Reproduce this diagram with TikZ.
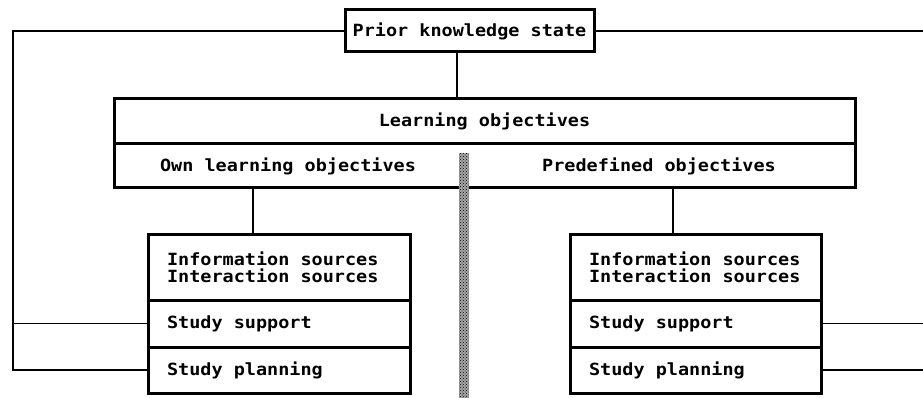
\documentclass[tikz,border=0pt]{standalone}
\usepackage{fontspec}
\newfontfamily\diagfont[FakeStretch=1.1]{DejaVu Sans Mono}
\usetikzlibrary{positioning,patterns}

\tikzset{
  part/.style={draw, line width=3pt, inner sep=0pt, outer sep=0pt, font=\diagfont\bfseries\fontsize{16.8}{17}\selectfont},
  headpart/.style={part, minimum width=#1, align=center},
  srcpart/.style={part, minimum width=#1, text width=#1-38pt, inner xsep=19pt, align=flush left, anchor=north west},
  link/.style={line width=1.8pt},
  label/.style={inner sep=0pt, font=\diagfont\bfseries\fontsize{16.8}{17}\selectfont}
}

\begin{document}
\begin{tikzpicture}[x=1pt,y=-1pt]
  \useasboundingbox (0,0) rectangle (923,398);

  % top
  \node[headpart=249pt, minimum height=42pt] (prior) at (469.5,31) {Prior knowledge state};

  % objectives block
  \node[headpart=741pt, minimum height=45pt, anchor=north west] (lohead) at (114,99) {Learning objectives};
  \node[headpart=741pt, minimum height=44pt, anchor=north west] (lobody) at (lohead.south west) {};
  \node[label] (own) at (288,166) {Own learning objectives};
  \node[label] (pre) at (659,166) {Predefined objectives};

  % left sources
  \node[srcpart=262pt, minimum height=66pt] (lsrc) at (148,234) {Information sources\\Interaction sources};
  \node[srcpart=262pt, minimum height=47pt] (lsup) at (lsrc.south west) {Study support};
  \node[srcpart=262pt, minimum height=46pt] (lplan) at (lsup.south west) {Study planning};

  % right sources
  \node[srcpart=251pt, minimum height=66pt] (rsrc) at (570,234) {Information sources\\Interaction sources};
  \node[srcpart=251pt, minimum height=47pt] (rsup) at (rsrc.south west) {Study support};
  \node[srcpart=251pt, minimum height=46pt] (rplan) at (rsup.south west) {Study planning};

  \coordinate (pk) at (457,0);
  \coordinate (lx) at (253,0);
  \coordinate (rx) at (673,0);
  \coordinate (fbl) at (13,0);
  \coordinate (fbr) at (923,0);

  % connectors
  \draw[link] (prior.south -| pk) -- (lohead.north -| pk);
  \draw[link] (lobody.south -| lx) -- (lsrc.north -| lx);
  \draw[link] (lobody.south -| rx) -- (rsrc.north -| rx);

  % feedback lines
  \draw[link] (prior.west) -- (prior.west -| fbl) |- (lplan.west);
  \draw[link] (lsup.west -| fbl) -- (lsup.west);
  \draw[link] (prior.east) -- (prior.east -| fbr);
  \draw[link] (rsup.east) -- (rsup.east -| fbr);
  \draw[link] (rplan.east) -- (rplan.east -| fbr);

  % separator bar
  \fill[black!35] (459,153) rectangle (469,398);
  \fill[pattern=crosshatch dots, pattern color=black] (459,153) rectangle (469,398);
\end{tikzpicture}
\end{document}
